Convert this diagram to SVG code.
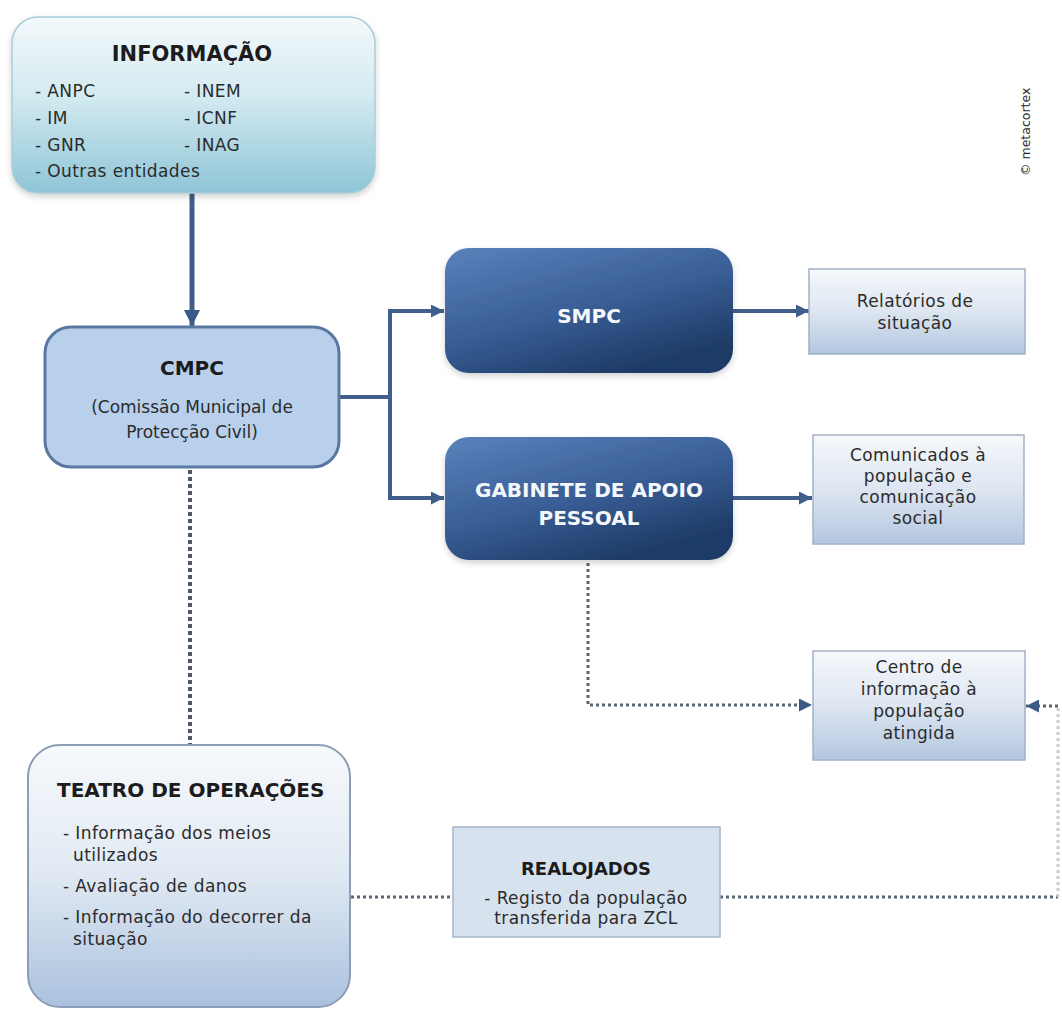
<svg xmlns="http://www.w3.org/2000/svg" width="1062" height="1012" viewBox="0 0 1062 1012">
  <style>
    text { font-family: "DejaVu Sans", "Liberation Sans", sans-serif; fill: #2b2b2b; }
    .title { font-weight: bold; fill: #1c1c1c; }
    .body { font-size: 17px; letter-spacing: 0.4px; }
    .c { text-anchor: middle; }
    .white { fill: #f4f7fb; font-weight: bold; font-size: 20px; }
    .solid { fill: none; stroke: #3f5f8a; stroke-width: 4; }
    .dots { fill: none; stroke: #4e5866; stroke-width: 4; stroke-dasharray: 4 3; }
    .dots-thin { fill: none; stroke: #5a6473; stroke-width: 3; stroke-dasharray: 3 3; }
    .box-light { fill: url(#gLight); stroke: #a3b1c4; stroke-width: 1.5; }
    .box-dark { fill: url(#gDark); stroke: none; }
  </style>
  <defs>
    <linearGradient id="gInfo" x1="0" y1="0" x2="0" y2="1">
      <stop offset="0" stop-color="#f4f9fb"/>
      <stop offset="0.45" stop-color="#d3eaf1"/>
      <stop offset="1" stop-color="#8ec5d7"/>
    </linearGradient>
    <linearGradient id="gDark" x1="0" y1="0" x2="0.6" y2="1">
      <stop offset="0" stop-color="#5a82bb"/>
      <stop offset="0.55" stop-color="#3a5f97"/>
      <stop offset="1" stop-color="#1e3b66"/>
    </linearGradient>
    <linearGradient id="gLight" x1="0" y1="0" x2="0" y2="1">
      <stop offset="0" stop-color="#f6f8fb"/>
      <stop offset="0.5" stop-color="#dde6f1"/>
      <stop offset="1" stop-color="#b3c6e0"/>
    </linearGradient>
    <linearGradient id="gTeatro" x1="0" y1="0" x2="0" y2="1">
      <stop offset="0" stop-color="#f7f9fc"/>
      <stop offset="0.5" stop-color="#e0e9f3"/>
      <stop offset="1" stop-color="#aac1de"/>
    </linearGradient>
    <filter id="shadow" x="-10%" y="-10%" width="120%" height="125%">
      <feDropShadow dx="0" dy="3" stdDeviation="3" flood-color="#000" flood-opacity="0.18"/>
    </filter>
    <marker id="arrow" viewBox="0 0 10 10" refX="10" refY="5" markerWidth="13" markerHeight="13" markerUnits="userSpaceOnUse" orient="auto">
      <path d="M0,0 L10,5 L0,10 z" fill="#3f5f8a"/>
    </marker>
    <marker id="arrowBig" viewBox="0 0 10 10" refX="10" refY="5" markerWidth="16" markerHeight="16" markerUnits="userSpaceOnUse" orient="auto">
      <path d="M0,0 L10,5 L0,10 z" fill="#3a5a88"/>
    </marker>
    <marker id="arrowDot" viewBox="0 0 10 10" refX="10" refY="5" markerWidth="13" markerHeight="13" markerUnits="userSpaceOnUse" orient="auto">
      <path d="M0,0 L10,5 L0,10 z" fill="#3d5a85"/>
    </marker>
  </defs>

  <rect width="1062" height="1012" fill="#ffffff"/>

  <!-- connectors -->
  <g id="connectors">
    <path class="solid" style="stroke-width:5" d="M192,193 V326" marker-end="url(#arrowBig)"/>
    <path class="solid" d="M340,397 H390"/>
    <path class="solid" d="M390,309 V500"/>
    <path class="solid" d="M388,311 H444" marker-end="url(#arrow)"/>
    <path class="solid" d="M388,498 H444" marker-end="url(#arrow)"/>
    <path class="solid" d="M733,311 H809" marker-end="url(#arrow)"/>
    <path class="solid" d="M733,498 H812" marker-end="url(#arrow)"/>
    <path class="dots" d="M190,470 V745"/>
    <path class="dots-thin" d="M588,563 V705 H812" marker-end="url(#arrowDot)"/>
    <path class="dots-thin" d="M351,897 H453"/>
    <path class="dots-thin" d="M720,897 H1058"/>
    <path class="dots-thin" style="stroke:#c8cdd5" d="M1058,897 V706"/>
    <path class="dots-thin" d="M1058,706 H1026" marker-end="url(#arrowDot)"/>
  </g>

  <g id="informacao">
    <rect x="12" y="17" width="363" height="176" rx="26" fill="url(#gInfo)" stroke="#a9cdd8" stroke-width="1.5" filter="url(#shadow)"/>
    <text class="title c" x="192" y="61" font-size="21">INFORMAÇÃO</text>
    <text class="body" x="35" y="97">- ANPC</text>
    <text class="body" x="35" y="124">- IM</text>
    <text class="body" x="35" y="151">- GNR</text>
    <text class="body" x="35" y="177">- Outras entidades</text>
    <text class="body" x="184" y="97">- INEM</text>
    <text class="body" x="184" y="124">- ICNF</text>
    <text class="body" x="184" y="151">- INAG</text>
  </g>

  <g id="cmpc">
    <rect x="45" y="327" width="294" height="140" rx="26" fill="#b9d0ec" stroke="#5878a2" stroke-width="3"/>
    <text class="title c" x="192" y="375" font-size="20">CMPC</text>
    <text class="c" x="192" y="413" font-size="17">(Comissão Municipal de</text>
    <text class="c" x="192" y="438" font-size="17">Protecção Civil)</text>
  </g>

  <g id="smpc">
    <rect class="box-dark" x="445" y="248" width="288" height="125" rx="24" filter="url(#shadow)"/>
    <text class="white c" x="589" y="323">SMPC</text>
  </g>

  <g id="gabinete">
    <rect class="box-dark" x="445" y="437" width="288" height="123" rx="24" filter="url(#shadow)"/>
    <text class="white c" x="589" y="497">GABINETE DE APOIO</text>
    <text class="white c" x="589" y="525">PESSOAL</text>
  </g>

  <g id="relatorios">
    <rect class="box-light" x="809" y="269" width="216" height="85"/>
    <text class="body c" x="915" y="307">Relatórios de</text>
    <text class="body c" x="915" y="329">situação</text>
  </g>

  <g id="comunicados">
    <rect class="box-light" x="813" y="435" width="211" height="109"/>
    <text class="body c" x="918" y="461">Comunicados à</text>
    <text class="body c" x="918" y="482">população e</text>
    <text class="body c" x="918" y="503">comunicação</text>
    <text class="body c" x="918" y="524">social</text>
  </g>

  <g id="centro">
    <rect class="box-light" x="813" y="651" width="212" height="109"/>
    <text class="body c" x="919" y="673">Centro de</text>
    <text class="body c" x="919" y="695">informação à</text>
    <text class="body c" x="919" y="717">população</text>
    <text class="body c" x="919" y="739">atingida</text>
  </g>

  <g id="teatro">
    <rect x="28" y="745" width="322" height="262" rx="32" fill="url(#gTeatro)" stroke="#8c9db6" stroke-width="2"/>
    <text class="title" x="57" y="797" font-size="20">TEATRO DE OPERAÇÕES</text>
    <text class="body" x="63" y="839">- Informação dos meios</text>
    <text class="body" x="73" y="861">utilizados</text>
    <text class="body" x="63" y="892">- Avaliação de danos</text>
    <text class="body" x="63" y="923">- Informação do decorrer da</text>
    <text class="body" x="73" y="945">situação</text>
  </g>

  <g id="realojados">
    <rect x="453" y="827" width="267" height="110" fill="#d7e2ef" stroke="#a7b6c9" stroke-width="1.5"/>
    <text class="title c" x="586" y="875" font-size="18">REALOJADOS</text>
    <text class="body c" x="586" y="904">- Registo da população</text>
    <text class="body c" x="586" y="924">transferida para ZCL</text>
  </g>

  <g id="watermark">
    <text x="0" y="0" font-size="12.5" fill="#444" transform="translate(1030,176) rotate(-90)">© metacortex</text>
  </g>
</svg>
